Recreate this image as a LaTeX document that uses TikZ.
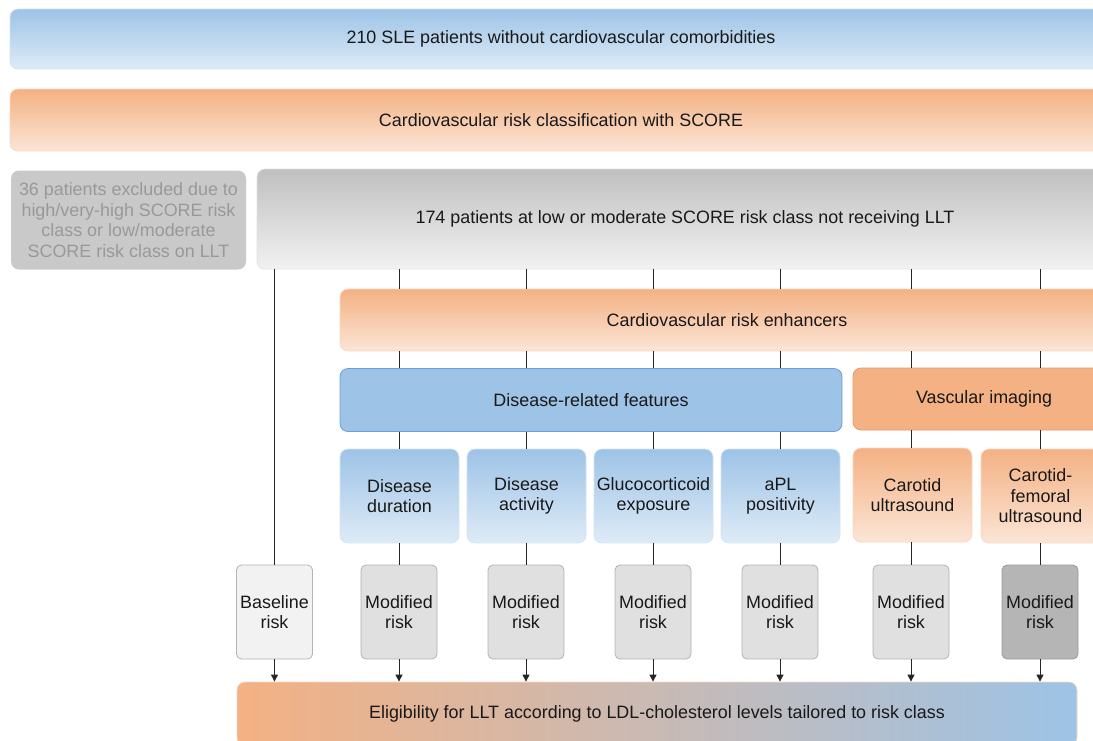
\documentclass[tikz,border=0pt]{standalone}
\usepackage{fontspec}
\setmainfont{Liberation Sans}
\usetikzlibrary{arrows.meta}
\definecolor{bluetop}{HTML}{9DC3E6}
\definecolor{bluebot}{HTML}{DEEBF7}
\definecolor{blueedge}{HTML}{6E9FD4}
\definecolor{orgtop}{HTML}{F4B183}
\definecolor{orgbot}{HTML}{FBE5D6}
\definecolor{orgedge}{HTML}{E8996A}
\definecolor{greytop}{HTML}{BFBFBF}
\definecolor{greybot}{HTML}{F2F2F2}
\definecolor{pinkmid}{HTML}{D6B4AE}
\begin{document}
\begin{tikzpicture}[x=1pt,y=-1pt,font=\fontsize{17.9}{20.5}\selectfont,
  box/.style={rounded corners=8pt,align=center,inner sep=0pt,line width=0.8pt,text=black!90},
  bluebox/.style={box,draw=bluetop!45,top color=bluetop,bottom color=bluebot},
  orgbox/.style={box,draw=orgtop!50,top color=orgtop,bottom color=orgbot},
  greybox/.style={box,draw=black!12,top color=greytop,bottom color=greybot},
  factor/.style={minimum width=119pt,minimum height=94pt},
  riskbox/.style={box,rounded corners=5pt,draw=black!30,fill=black!12,minimum width=76pt,minimum height=94pt},
  conn/.style={line width=0.9pt,black!85},
  arr/.style={conn,-{Triangle[width=7pt,length=7pt]}}]
\useasboundingbox (0,0) rectangle (1093,740);
\clip (0,0) rectangle (1093,740);
% top rows
\node[bluebox,minimum width=1102pt,minimum height=60pt] (sle) at (561,39) {210 SLE patients without cardiovascular comorbidities};
\node[orgbox,minimum width=1102pt,minimum height=62pt] (score) at (561,120) {Cardiovascular risk classification with SCORE};
\node[box,fill=black!21,text=black!40,minimum width=235pt,minimum height=99pt] (excl) at (128.5,220)
  {36 patients excluded due to\\high/very-high SCORE risk\\class or low/moderate\\SCORE risk class on LLT};
\node[greybox,minimum width=856pt,minimum height=100pt] (pat) at (685,219) {174 patients at low or moderate SCORE risk class not receiving LLT};
\node[orgbox,minimum width=774pt,minimum height=62pt] (enh) at (727,320) {Cardiovascular risk enhancers};
\node[box,fill=bluetop,draw=blueedge,minimum width=502pt,minimum height=63pt] (dis) at (591,400) {Disease-related features};
\node[box,fill=orgtop,draw=orgedge,minimum width=262pt,minimum height=62pt] (vasc) at (984,399) {Vascular imaging};
% enhancers
\node[bluebox,factor] (dd) at (399.5,496) {Disease\\duration};
\node[bluebox,factor] (da) at (526.5,496) {Disease\\activity};
\node[bluebox,factor] (gc) at (653.5,496) {Glucocorticoid\\exposure};
\node[bluebox,factor] (apl) at (780.5,496) {aPL\\positivity};
\node[orgbox,factor] (cu) at (912.5,495) {Carotid\\ultrasound};
\node[orgbox,factor] (cf) at (1040.5,496) {Carotid-\\femoral\\ultrasound};
% risk
\node[riskbox,fill=black!5] (base) at (274.5,612) {Baseline\\risk};
\foreach \n/\x in {m1/399,m2/526,m3/653,m4/780,m5/911}
  \node[riskbox] (\n) at (\x,612) {Modified\\risk};
\node[riskbox,fill=black!29,draw=black!40] (m6) at (1040,612) {Modified\\risk};
\node[box,draw=orgtop!50,left color=orgtop,middle color=pinkmid,right color=bluetop,minimum width=840pt,minimum height=64pt] (elig) at (657,714)
  {Eligibility for LLT according to LDL-cholesterol levels tailored to risk class};
% connectors
\draw[conn] (pat.south -| base) -- (base.north);
\draw[arr] (base.south) -- (elig.north -| base);
\foreach \f/\r/\g in {dd/m1/dis,da/m2/dis,gc/m3/dis,apl/m4/dis,cu/m5/vasc,cf/m6/vasc}{
  \draw[conn] (pat.south -| \r) -- (enh.north -| \r);
  \draw[conn] (enh.south -| \r) -- (\g.north -| \r);
  \draw[conn] (\g.south -| \r) -- (\f.north -| \r);
  \draw[conn] (\f.south -| \r) -- (\r.north);
  \draw[arr] (\r.south) -- (elig.north -| \r);
}
\end{tikzpicture}
\end{document}
